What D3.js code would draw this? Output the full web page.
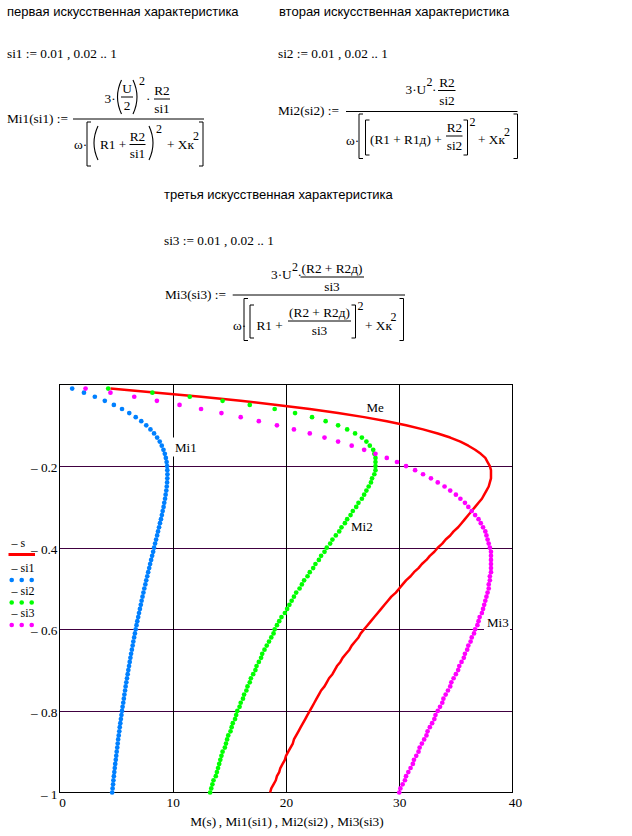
<!DOCTYPE html>
<html><head><meta charset="utf-8">
<script src="https://cdn.jsdelivr.net/npm/d3@7"></script>
<style>
body { margin: 0; background: #fff; }
text { fill: #000; }
.sans { font-family: "Liberation Sans", Arial, sans-serif; font-size: 13px; }
.math { font-family: "Liberation Serif", "Times New Roman", serif; font-size: 13.3px; }
.sup { font-family: "Liberation Serif", "Times New Roman", serif; font-size: 12px; }
.lbl { font-family: "Liberation Serif", "Times New Roman", serif; font-size: 13px; }
.leg { font-family: "Liberation Serif", "Times New Roman", serif; font-size: 12px; }
</style>
</head><body><svg id="sheet"></svg>
<script>
// slip values s, si1, si2, si3 := 0.01, 0.02 .. 1
const slip = [
  0.01, 0.02, 0.03, 0.04, 0.05, 0.06, 0.07, 0.08, 0.09, 0.10,
  0.11, 0.12, 0.13, 0.14, 0.15, 0.16, 0.17, 0.18, 0.19, 0.20,
  0.21, 0.22, 0.23, 0.24, 0.25, 0.26, 0.27, 0.28, 0.29, 0.30,
  0.31, 0.32, 0.33, 0.34, 0.35, 0.36, 0.37, 0.38, 0.39, 0.40,
  0.41, 0.42, 0.43, 0.44, 0.45, 0.46, 0.47, 0.48, 0.49, 0.50,
  0.51, 0.52, 0.53, 0.54, 0.55, 0.56, 0.57, 0.58, 0.59, 0.60,
  0.61, 0.62, 0.63, 0.64, 0.65, 0.66, 0.67, 0.68, 0.69, 0.70,
  0.71, 0.72, 0.73, 0.74, 0.75, 0.76, 0.77, 0.78, 0.79, 0.80,
  0.81, 0.82, 0.83, 0.84, 0.85, 0.86, 0.87, 0.88, 0.89, 0.90,
  0.91, 0.92, 0.93, 0.94, 0.95, 0.96, 0.97, 0.98, 0.99, 1.00
];

// natural characteristic M(s)
const mNat = [
  4.5, 8.6, 12.5, 16.0, 19.2, 22.1, 24.6, 26.9, 28.9, 30.6,
  32.1, 33.4, 34.5, 35.4, 36.1, 36.7, 37.2, 37.6, 37.8, 38.0,
  38.1, 38.1, 38.1, 38.0, 37.9, 37.7, 37.5, 37.3, 37.0, 36.7,
  36.4, 36.1, 35.8, 35.5, 35.2, 34.8, 34.5, 34.1, 33.8, 33.4,
  33.1, 32.7, 32.4, 32.0, 31.7, 31.3, 31.0, 30.6, 30.3, 30.0,
  29.7, 29.3, 29.0, 28.7, 28.4, 28.1, 27.8, 27.5, 27.2, 26.9,
  26.6, 26.4, 26.1, 25.8, 25.6, 25.3, 25.0, 24.8, 24.5, 24.3,
  24.1, 23.8, 23.6, 23.4, 23.1, 22.9, 22.7, 22.5, 22.3, 22.1,
  21.9, 21.7, 21.5, 21.3, 21.1, 20.9, 20.7, 20.6, 20.4, 20.2,
  20.0, 19.9, 19.7, 19.5, 19.4, 19.2, 19.1, 18.9, 18.7, 18.6
];

// first artificial characteristic Mi1(si1), blue dots
const mi1 = [
  1.12, 2.16, 3.12, 4.00, 4.80, 5.52, 6.16, 6.73, 7.22, 7.66,
  8.03, 8.35, 8.62, 8.85, 9.03, 9.18, 9.30, 9.39, 9.46, 9.50,
  9.52, 9.53, 9.52, 9.50, 9.47, 9.43, 9.37, 9.32, 9.25, 9.19,
  9.11, 9.04, 8.96, 8.87, 8.79, 8.70, 8.62, 8.53, 8.44, 8.35,
  8.27, 8.18, 8.09, 8.00, 7.92, 7.83, 7.75, 7.66, 7.58, 7.49,
  7.41, 7.33, 7.25, 7.18, 7.10, 7.02, 6.95, 6.87, 6.80, 6.73,
  6.66, 6.59, 6.52, 6.46, 6.39, 6.32, 6.26, 6.20, 6.14, 6.08,
  6.02, 5.96, 5.90, 5.84, 5.79, 5.73, 5.68, 5.63, 5.57, 5.52,
  5.47, 5.42, 5.37, 5.32, 5.28, 5.23, 5.18, 5.14, 5.10, 5.05,
  5.01, 4.97, 4.92, 4.88, 4.84, 4.80, 4.76, 4.73, 4.69, 4.65
];

// second artificial characteristic Mi2(si2), green dots
const mi2 = [
  4.3, 8.2, 11.5, 14.4, 16.8, 19.0, 20.8, 22.3, 23.5, 24.6,
  25.4, 26.1, 26.7, 27.1, 27.4, 27.7, 27.8, 27.9, 27.9, 27.9,
  27.9, 27.8, 27.6, 27.5, 27.3, 27.1, 26.9, 26.7, 26.4, 26.2,
  25.9, 25.7, 25.4, 25.2, 24.9, 24.7, 24.4, 24.1, 23.9, 23.6,
  23.4, 23.1, 22.9, 22.6, 22.4, 22.1, 21.9, 21.6, 21.4, 21.2,
  20.9, 20.7, 20.5, 20.3, 20.1, 19.9, 19.6, 19.4, 19.2, 19.0,
  18.9, 18.7, 18.5, 18.3, 18.1, 17.9, 17.8, 17.6, 17.4, 17.3,
  17.1, 16.9, 16.8, 16.6, 16.5, 16.3, 16.2, 16.0, 15.9, 15.7,
  15.6, 15.5, 15.3, 15.2, 15.1, 14.9, 14.8, 14.7, 14.6, 14.4,
  14.3, 14.2, 14.1, 14.0, 13.9, 13.8, 13.6, 13.5, 13.4, 13.3
];

// third artificial characteristic Mi3(si3), magenta dots
const mi3 = [
  2.3, 4.5, 6.6, 8.6, 10.6, 12.5, 14.3, 16.0, 17.6, 19.2,
  20.7, 22.1, 23.4, 24.6, 25.8, 26.9, 27.9, 28.9, 29.8, 30.6,
  31.4, 32.1, 32.8, 33.4, 34.0, 34.5, 35.0, 35.4, 35.8, 36.1,
  36.4, 36.7, 37.0, 37.2, 37.4, 37.6, 37.7, 37.8, 37.9, 38.0,
  38.1, 38.1, 38.1, 38.1, 38.1, 38.1, 38.0, 38.0, 37.9, 37.9,
  37.8, 37.7, 37.6, 37.5, 37.4, 37.3, 37.1, 37.0, 36.9, 36.7,
  36.6, 36.4, 36.3, 36.1, 36.0, 35.8, 35.7, 35.5, 35.3, 35.2,
  35.0, 34.8, 34.6, 34.5, 34.3, 34.1, 33.9, 33.8, 33.6, 33.4,
  33.2, 33.1, 32.9, 32.7, 32.5, 32.4, 32.2, 32.0, 31.8, 31.7,
  31.5, 31.3, 31.2, 31.0, 30.8, 30.6, 30.5, 30.3, 30.1, 30.0
];

const xTicks = [0, 10, 20, 30, 40];
const yTicks = [-0.2, -0.4, -0.6, -0.8, -1];
const xGrid = [10, 20, 30];
const yGrid = [-0.2, -0.4, -0.6, -0.8];

const svg = d3.select("#sheet").attr("width", 632).attr("height", 836);

// ---------- worksheet text ----------
function t(x, y, s, cls = "math", anchor = "start") {
  return svg.append("text").attr("class", cls).attr("x", x).attr("y", y)
    .attr("text-anchor", anchor).text(s);
}
function bar(x1, x2, y) {
  svg.append("line").attr("x1", x1).attr("x2", x2).attr("y1", y).attr("y2", y)
    .attr("stroke", "#000").attr("stroke-width", 1);
}
// square bracket, dir 1 = "[", -1 = "]"
function sq(x, y1, y2, dir) {
  svg.append("path").attr("d", `M${x + 4 * dir},${y1}H${x}V${y2}H${x + 4 * dir}`)
    .attr("fill", "none").attr("stroke", "#000").attr("stroke-width", 1);
}
// round paren, dir 1 = "(", -1 = ")"
function rp(x, y1, y2, dir) {
  const m = (y1 + y2) / 2;
  svg.append("path").attr("d", `M${x},${y1}Q${x - 8 * dir},${m} ${x},${y2}`)
    .attr("fill", "none").attr("stroke", "#000").attr("stroke-width", 1.1);
}

// first characteristic
t(7, 16, "первая искусственная характеристика", "sans");
t(7, 58, "si1 := 0.01 , 0.02 .. 1");
t(7, 123, "Mi1(si1) :=");
bar(73, 204, 119);
t(104.5, 103, "3·");
rp(121.5, 80, 114, 1);
t(127, 93, "U", "math", "middle");
bar(121, 133, 97);
t(127, 110, "2", "math", "middle");
rp(133, 80, 114, -1);
t(139, 85, "2", "sup");
t(146, 103, "·");
t(162, 95, "R2", "math", "middle");
bar(154, 170, 99);
t(162, 112.5, "si1", "math", "middle");
t(74, 149, "ω·");
sq(87, 122, 166, 1);
rp(98, 126, 160, 1);
t(100, 149, "R1 +");
t(137.5, 140.5, "R2", "math", "middle");
bar(129.5, 145.5, 144.5);
t(137.5, 158, "si1", "math", "middle");
rp(149, 126, 160, -1);
t(156, 133, "2", "sup");
t(167, 149, "+ Xк");
t(193, 140, "2", "sup");
sq(203, 122, 166, -1);

// second characteristic
t(279, 16, "вторая искусственная характеристика", "sans");
t(278, 58, "si2 := 0.01 , 0.02 .. 1");
t(278, 115, "Mi2(si2) :=");
bar(346, 517.5, 111.5);
t(405.5, 94, "3·U");
t(426.5, 86, "2", "sup");
t(432, 94, "·");
t(447, 86.5, "R2", "math", "middle");
bar(438, 455.5, 90.5);
t(447, 104.5, "si2", "math", "middle");
t(346, 145, "ω·");
sq(359, 114, 158.5, 1);
sq(365.5, 120, 155, 1);
t(370, 144, "(R1 + R1д) +");
t(454.5, 132, "R2", "math", "middle");
bar(446, 462.5, 136);
t(454.5, 150, "si2", "math", "middle");
sq(467.5, 120, 155, -1);
t(469.5, 126, "2", "sup");
t(478, 144, "+ Xк");
t(504, 136, "2", "sup");
sq(517.5, 114, 158.5, -1);

// third characteristic
t(164, 199, "третья искусственная характеристика", "sans");
t(164, 245, "si3 := 0.01 , 0.02 .. 1");
t(165, 299, "Mi3(si3) :=");
bar(232.7, 405, 295);
t(271, 279, "3·U");
t(292, 270.5, "2", "sup");
t(297.5, 279, "·");
t(332, 273, "(R2 + R2д)", "math", "middle");
bar(300.5, 364, 277);
t(332, 291, "si3", "math", "middle");
t(233, 330, "ω·");
sq(244, 298.5, 340.5, 1);
sq(250, 305, 338, 1);
t(256.5, 330, "R1 +");
t(319.5, 317, "(R2 + R2д)", "math", "middle");
bar(288, 351, 321);
t(319.5, 335, "si3", "math", "middle");
sq(355.5, 305, 338, -1);
t(357.5, 310, "2", "sup");
t(365, 330, "+ Xк");
t(390.5, 321, "2", "sup");
sq(403.5, 298.5, 340.5, -1);

// ---------- chart ----------
const pLeft = 59.5, pRight = 512.5, pTop = 384.5, pBottom = 792.5;
const x = d3.scaleLinear().domain([0, 40]).range([pLeft, pRight]);
const y = d3.scaleLinear().domain([-1, 0]).range([pBottom, pTop]);

const plot = svg.append("g").attr("shape-rendering", "crispEdges");

plot.selectAll("line.hg").data(yGrid).join("line").attr("class", "hg")
  .attr("x1", pLeft).attr("x2", pRight)
  .attr("y1", d => Math.round(y(d)) + 0.5).attr("y2", d => Math.round(y(d)) + 0.5)
  .attr("stroke", "#400040").attr("stroke-width", 1);

plot.selectAll("line.vg").data(xGrid).join("line").attr("class", "vg")
  .attr("x1", d => Math.round(x(d)) + 0.5).attr("x2", d => Math.round(x(d)) + 0.5)
  .attr("y1", pTop).attr("y2", pBottom)
  .attr("stroke", "#000").attr("stroke-width", 1);

plot.append("rect").attr("x", pLeft).attr("y", pTop)
  .attr("width", pRight - pLeft).attr("height", pBottom - pTop)
  .attr("fill", "none").attr("stroke", "#000").attr("stroke-width", 1);

// y labels
const yAxis = svg.append("g").attr("transform", `translate(${pLeft},0)`)
  .call(d3.axisLeft(y).tickValues(yTicks).tickSize(0).tickPadding(2)
    .tickFormat(d => "\u2013 " + Math.abs(d)));
yAxis.attr("font-family", null).attr("font-size", null);
yAxis.select(".domain").remove();
yAxis.selectAll("text").attr("class", "math").attr("dy", "0.42em");

// x labels
const xAxis = svg.append("g").attr("transform", `translate(0,${pBottom})`)
  .call(d3.axisBottom(x).tickValues(xTicks).tickSize(0).tickPadding(5));
xAxis.attr("font-family", null).attr("font-size", null);
xAxis.select(".domain").remove();
xAxis.selectAll("text").attr("class", "math")
  .attr("dx", d => (d === 0 || d === 40) ? 2.5 : 0);

t(287, 826, "M(s)\u2009, Mi1(si1)\u2009, Mi2(si2)\u2009, Mi3(si3)", "math", "middle");

// traces: red line, then dotted series
const line = d3.line().x((d, i) => x(mNat[i])).y(d => y(-d));
svg.append("path").datum(slip).attr("d", line)
  .attr("fill", "none").attr("stroke", "#ff0000").attr("stroke-width", 2.5)
  .attr("stroke-linejoin", "round");

const series = [
  { vals: mi1, color: "#0080ff" },
  { vals: mi2, color: "#00ff00" },
  { vals: mi3, color: "#ff00ff" }
];
series.forEach(sr => {
  svg.append("g").selectAll("circle").data(slip).join("circle")
    .attr("cx", (d, i) => x(sr.vals[i])).attr("cy", d => y(-d))
    .attr("r", 2.35).attr("fill", sr.color);
});

// curve labels with white boxes
function tag(px, py, s, boxed) {
  if (boxed) svg.append("rect").attr("x", px - 3).attr("y", py - 14)
    .attr("width", 26).attr("height", 19).attr("fill", "#fff");
  t(px, py, s, "lbl");
}
tag(366.5, 411.5, "Me", false);
tag(175, 451.5, "Mi1", true);
tag(351, 531, "Mi2", false);
tag(487, 627, "Mi3", true);

// legend
const leg = [
  { name: "s", y: 547 },
  { name: "si1", y: 572, color: "#0080ff" },
  { name: "si2", y: 594.5, color: "#00ff00" },
  { name: "si3", y: 617, color: "#ff00ff" }
];
leg.forEach(l => t(11.5, l.y, "\u2013 " + l.name, "leg"));
svg.append("line").attr("x1", 8.5).attr("x2", 35).attr("y1", 554.5).attr("y2", 554.5)
  .attr("stroke", "#ff0000").attr("stroke-width", 3);
leg.slice(1).forEach(l => {
  svg.append("g").selectAll("circle").data([11.7, 21.7, 31.7]).join("circle")
    .attr("cx", d => d).attr("cy", l.y + 8).attr("r", 2.3).attr("fill", l.color);
});
</script>
</body></html>
